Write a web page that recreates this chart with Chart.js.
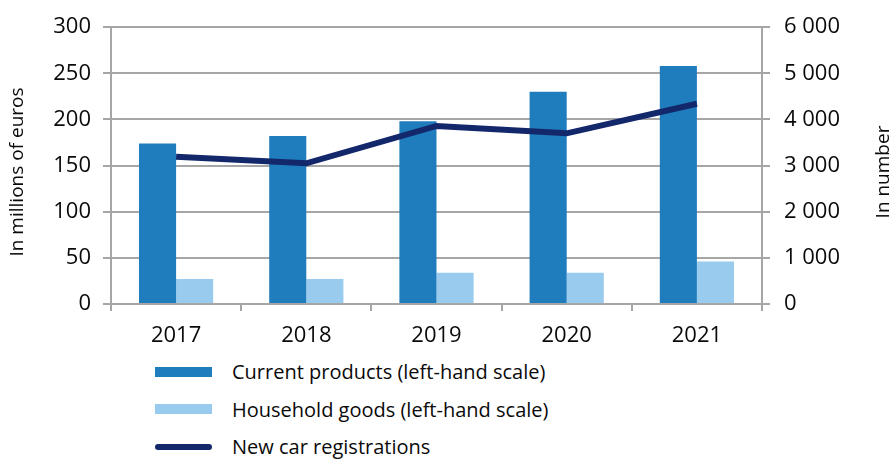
<!DOCTYPE html>
<html>
<head>
<meta charset="utf-8">
<script src="https://cdn.jsdelivr.net/npm/chart.js@4/dist/chart.umd.min.js"></script>
<style>
  body { margin: 0; background: #fff; font-family: 'Open Sans', sans-serif; }
  #wrap { position: relative; width: 895px; height: 459px; overflow: hidden; }
  #chartBox { width: 895px; height: 352px; }
  #legend { position: absolute; left: 155px; top: 353px; }
  .item { display: flex; align-items: center; height: 37.5px; font-size: 20px; color: #0a0a0a; }
  .swatch { width: 57px; margin-right: 20px; }
</style>
</head>
<body>
<div id="wrap">
  <div id="chartBox"><canvas id="salesChart"></canvas></div>
  <div id="legend"></div>
</div>
<script>
// Sales data, 2017-2021
const years = ['2017', '2018', '2019', '2020', '2021'];
const currentProducts = [174, 182, 198, 230, 258];
const householdGoods = [27, 27, 34, 34, 46];
const newCarRegistrations = [3190, 3050, 3860, 3700, 4340];

const leftTicks = [0, 50, 100, 150, 200, 250, 300];
const rightTicks = [0, 1000, 2000, 3000, 4000, 5000, 6000];

const gridColor = '#a6a6a6';
const textColor = '#0a0a0a';
const tickFont = { family: 'Open Sans', size: 22 };

// "6 000" style thousands
function spaced(v) {
    return String(v).replace(/\B(?=(\d{3})+(?!\d))/g, ' ');
}

// Both axis titles read bottom to top
const axisTitles = {
    id: 'axisTitles',
    afterDraw(chart) {
        const ctx = chart.ctx;
        const y = 172;
        ctx.save();
        ctx.fillStyle = textColor;
        ctx.font = '19px "Open Sans"';
        ctx.textAlign = 'center';
        ctx.textBaseline = 'middle';
        [[18, 'In millions of euros'], [884, 'In number']].forEach(([x, t]) => {
            ctx.save();
            ctx.translate(x, y);
            ctx.rotate(-Math.PI / 2);
            ctx.fillText(t, 0, 0);
            ctx.restore();
        });
        ctx.restore();
    }
};

const chart = new Chart(document.getElementById('salesChart'), {
    data: {
        labels: years,
        datasets: [
            {
                type: 'line',
                label: 'New car registrations',
                data: newCarRegistrations,
                yAxisID: 'y2',
                borderColor: '#13276b',
                backgroundColor: '#13276b',
                borderWidth: 6,
                pointRadius: 0,
                tension: 0,
                order: 0
            },
            {
                type: 'bar',
                label: 'Current products (left-hand scale)',
                data: currentProducts,
                yAxisID: 'y',
                backgroundColor: '#1f7dbd',
                barPercentage: 1,
                categoryPercentage: 0.57,
                order: 1
            },
            {
                type: 'bar',
                label: 'Household goods (left-hand scale)',
                data: householdGoods,
                yAxisID: 'y',
                backgroundColor: '#99cbee',
                barPercentage: 1,
                categoryPercentage: 0.57,
                order: 1
            }
        ]
    },
    options: {
        responsive: true,
        maintainAspectRatio: false,
        animation: false,
        layout: { padding: { top: 23 } },
        plugins: {
            legend: { display: false },
            tooltip: { enabled: false }
        },
        scales: {
            x: {
                offset: true,
                grid: {
                    offset: true,
                    drawOnChartArea: false,
                    drawTicks: true,
                    tickLength: 7,
                    color: gridColor,
                    lineWidth: 2
                },
                border: { display: false },
                ticks: { color: textColor, font: tickFont, padding: 12 },
                afterFit(scale) { scale.height = 48; }
            },
            y: {
                position: 'left',
                min: 0,
                max: 300,
                afterBuildTicks(scale) { scale.ticks = leftTicks.map(v => ({ value: v })); },
                grid: { color: gridColor, lineWidth: 2, tickLength: 8 },
                border: { color: gridColor, width: 2 },
                ticks: { color: textColor, font: tickFont, padding: 12 },
                afterFit(scale) { scale.width = 111; }
            },
            y2: {
                position: 'right',
                min: 0,
                max: 6000,
                afterBuildTicks(scale) { scale.ticks = rightTicks.map(v => ({ value: v })); },
                grid: { drawOnChartArea: false, color: gridColor, lineWidth: 2, tickLength: 8 },
                border: { color: gridColor, width: 2 },
                ticks: {
                    color: textColor,
                    font: tickFont,
                    padding: 14,
                    callback: v => spaced(v)
                },
                afterFit(scale) { scale.width = 133; }
            }
        }
    },
    plugins: [axisTitles]
});

// Vertical legend built from the datasets, bars first
function buildLegend() {
    const box = document.getElementById('legend');
    const sets = chart.data.datasets;
    [sets[1], sets[2], sets[0]].forEach(ds => {
        const row = document.createElement('div');
        row.className = 'item';
        const sw = document.createElement('div');
        sw.className = 'swatch';
        sw.style.background = ds.backgroundColor;
        if (ds.type === 'line') {
            sw.style.height = '6px';
            sw.style.borderRadius = '3px';
        } else {
            sw.style.height = '10px';
        }
        const txt = document.createElement('span');
        txt.textContent = ds.label;
        row.appendChild(sw);
        row.appendChild(txt);
        box.appendChild(row);
    });
}
buildLegend();
</script>
</body>
</html>
